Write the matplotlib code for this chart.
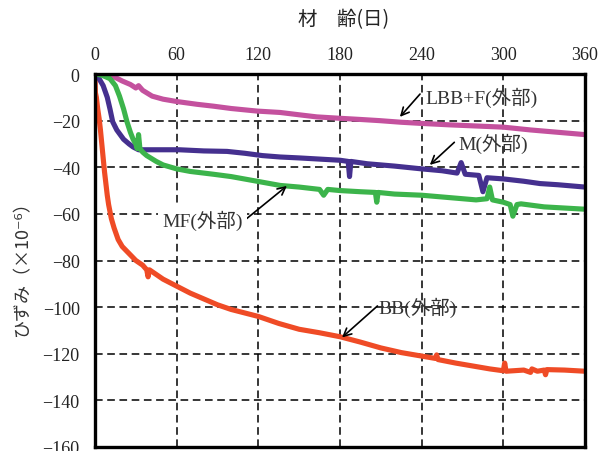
import matplotlib
matplotlib.use("Agg")
import matplotlib.pyplot as plt

FAM = ['Liberation Serif', 'Noto Sans CJK JP', 'DejaVu Sans']
FAM_CJK = ['Noto Sans CJK JP', 'DejaVu Sans']
plt.rcParams['font.family'] = FAM
plt.rcParams['axes.unicode_minus'] = True

# ---- data (day, strain x10^-6) ----
bb_days = [0, 0.3, 1, 2, 3, 4, 5, 6, 7, 8, 9, 10, 12, 14, 17, 20, 25, 30, 35, 38, 39, 40,
           45, 50, 60, 70, 80, 90, 100, 110, 120, 135, 150, 165, 180, 195, 210, 225, 240,
           250, 251, 252, 265, 280, 290, 300, 301, 302, 315, 320, 321, 325, 330, 331, 332,
           345, 360]
bb_vals = [0, -8, -10, -15, -19, -24, -30, -36, -42, -47, -52, -56, -62, -66, -71, -74, -77,
           -80, -82, -84, -87, -84, -86, -88, -91, -94, -96.5, -99, -101, -102.5, -104,
           -107, -109.5, -111, -112.7, -115, -117.5, -119.5, -121, -122, -120.5, -122.5,
           -124, -125.5, -126.5, -127.3, -124, -127.5, -127, -128, -126.5, -127.5, -127,
           -129, -126.8, -127, -127.5]

m_days = [0, 3, 6, 9, 11, 13, 16, 21, 25, 28, 32, 38, 50, 62, 80, 97, 110, 123, 136, 150,
          165, 180, 186, 187, 188, 200, 220, 240, 255, 266, 269, 272, 282, 285, 288, 300,
          315, 327, 340, 360]
m_vals = [0, -2, -5, -10, -15, -20.5, -24, -28, -30, -31.3, -32.5, -32.5, -32.5, -32.5, -33,
          -33.2, -34, -35, -35.6, -36, -36.5, -37, -37.5, -44, -37.5, -38.5, -39.5, -40.7,
          -41.5, -42.5, -38, -43, -43.5, -50.5, -44.5, -45, -46, -47, -47.5, -48.5]

mf_days = [0, 5, 11, 15, 18, 21, 23.5, 26, 28, 30, 31, 32, 33, 35, 38, 45, 50, 60, 70, 87,
           100, 119, 136, 150, 165, 168, 171, 180, 195, 206, 207, 208, 220, 240, 260, 280,
           288, 290, 292, 300, 305, 307, 310, 313, 330, 345, 360]
mf_vals = [0, -0.5, -2, -5, -9.5, -15, -20.5, -25, -28, -30, -32, -26, -32, -33.5, -35,
           -37.5, -39, -40.7, -41.8, -43, -44, -46, -47.8, -48.5, -49.5, -52, -49.5, -50,
           -50.5, -50.8, -55, -50.8, -51.5, -52, -53, -54, -53.5, -48.5, -54, -55, -56,
           -61, -56, -55.7, -57, -57.5, -58]

lbb_days = [0, 5, 10, 15, 20, 26, 30, 32, 35, 42, 50, 60, 75, 87, 100, 119, 136, 150, 163,
            180, 195, 209, 225, 240, 260, 280, 300, 320, 340, 360]
lbb_vals = [0, 0, -0.5, -1.5, -3, -4.5, -6, -5, -7, -9.5, -10.8, -11.8, -13, -13.8, -14.8,
            -15.9, -16.5, -17.5, -18.4, -19, -19.5, -20, -20.7, -21.2, -21.8, -22.3, -22.8,
            -24, -25, -26]

x_ticks = [0, 60, 120, 180, 240, 300, 360]
y_ticks = [0, -20, -40, -60, -80, -100, -120, -140, -160]

fig = plt.figure(figsize=(6.09, 4.52), dpi=100)
ax = fig.add_axes([95/609, 1-448/452, 490/609, 373/452])

lw = 3.7
ax.plot(bb_days, bb_vals, color='#EF4B26', lw=lw, zorder=3)
ax.plot(m_days, m_vals, color='#45308F', lw=lw, zorder=3)
ax.plot(mf_days, mf_vals, color='#3CB44B', lw=lw, zorder=4)
ax.plot(lbb_days, lbb_vals, color='#C4519E', lw=lw, zorder=3)

ax.set_xlim(0, 360)
ax.set_ylim(-160, 0)
ax.set_xticks(x_ticks)
ax.set_yticks(y_ticks)
ax.set_xticklabels([str(v) for v in x_ticks])
ax.set_yticklabels([str(v).replace('-', '\u2212') for v in y_ticks])
ax.xaxis.tick_top()
ax.tick_params(axis='both', length=0, labelsize=13, colors='#222222')
ax.tick_params(axis='x', pad=8)
ax.tick_params(axis='y', pad=11)
ax.grid(True, color='black', lw=1.1, linestyle=(0, (5, 3)), zorder=1)
for s in ax.spines.values():
    s.set_linewidth(2.4)
    s.set_color('black')
    s.set_zorder(5)

fig.text(344/609, 1-20/452, '材\u3000齢(日)', ha='center', va='center', fontsize=14,
         color='#222222', family=FAM_CJK)
fig.text(22/609, 1-265/452, 'ひずみ（×10⁻⁶）', ha='center', va='center', fontsize=13,
         rotation=90, color='#333333', family=FAM_CJK)

ap = dict(arrowstyle='->', color='black', lw=1.2, shrinkA=0, shrinkB=0,
          mutation_scale=14)
tc = '#333333'
fs = 14
ax.annotate('', xy=(224, -18.4), xytext=(238.8, -8.6), arrowprops=ap, zorder=6)
ax.text(243, -10, 'LBB+F(外部)', fontsize=fs, color=tc, va='center', ha='left', zorder=6)

ax.annotate('', xy=(246, -39), xytext=(264, -29.3), arrowprops=ap, zorder=6)
ax.text(267, -29.5, 'M(外部)', fontsize=fs, color=tc, va='center', ha='left', zorder=6)

ax.annotate('', xy=(141, -48), xytext=(111.5, -62), arrowprops=ap, zorder=6)
ax.text(108.5, -62.5, 'MF(外部)', fontsize=fs, color=tc, va='center', ha='right', zorder=6,
        bbox=dict(facecolor='white', edgecolor='none', pad=3))

ax.annotate('', xy=(181.5, -113), xytext=(207.5, -99.5), arrowprops=ap, zorder=6)
ax.text(208.5, -100, 'BB(外部)', fontsize=fs, color=tc, va='center', ha='left', zorder=6)

fig.savefig('out.png', dpi=100)
